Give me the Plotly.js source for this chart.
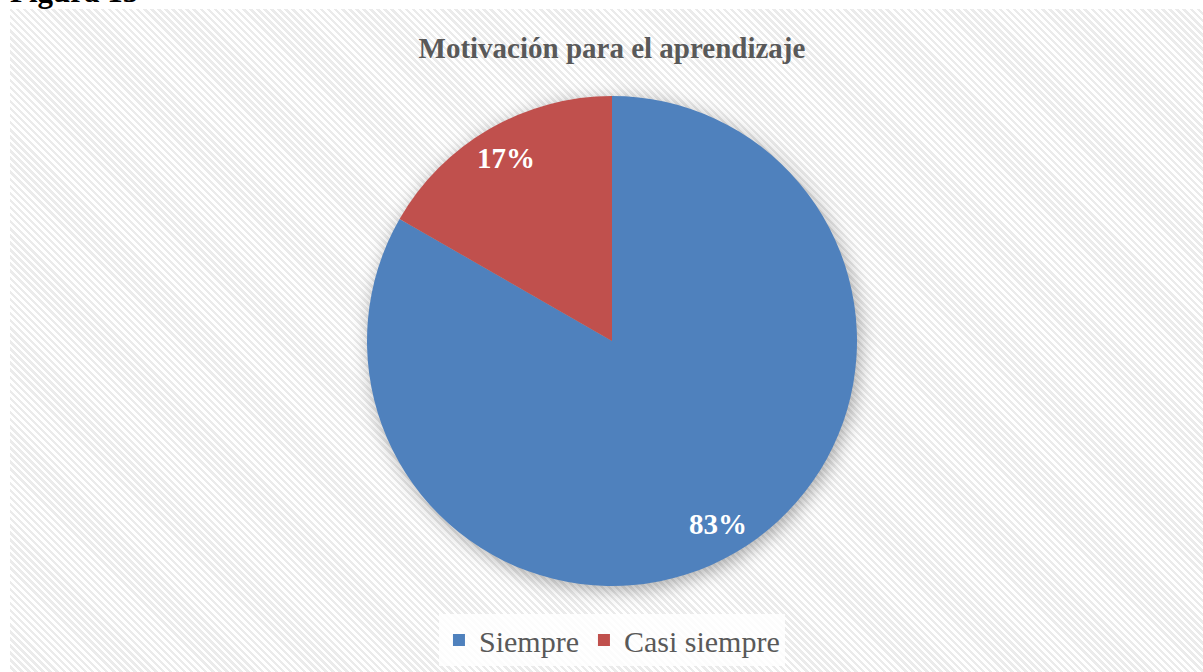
<!DOCTYPE html>
<html>
<head>
<meta charset="utf-8">
<script src="https://cdn.plot.ly/plotly-3.0.1.min.js"></script>
<style>
  html, body { margin: 0; padding: 0; background: #ffffff; }
  #wrap { position: relative; width: 1203px; height: 672px; overflow: hidden; background: #ffffff; }
  #hatch { position: absolute; left: 10px; top: 9px; right: 0; bottom: 0;
    background: repeating-linear-gradient(45deg, #ffffff 0px, #ffffff 2.5px, #ebebeb 2.5px, #ebebeb 5px); }
  #chart { position: absolute; left: 0; top: 0; width: 1203px; height: 672px; }
  #chart .pielayer { filter: drop-shadow(3px 4px 9px rgba(0,0,0,0.32)); }
</style>
</head>
<body>
<div id="wrap">
  <div id="hatch"></div>
  <div id="chart"></div>
</div>
<script>
const categories = ["Siempre", "Casi siempre"];
const values = [83.3, 16.7];
const colors = ["#4F81BD", "#C0504D"];

const W = 1203, H = 672;
const cx = 612, cy = 341, R = 245;
const dom = {
  x: [(cx - R) / W, (cx + R) / W],
  y: [1 - (cy + R) / H, 1 - (cy - R) / H]
};

// data label positions derived from the values (clockwise from 12 o'clock)
const total = values.reduce((a, b) => a + b, 0);
const annotations = [];
let start = 0;
values.forEach((v, i) => {
  const mid = (start + v / 2) / total * 2 * Math.PI;
  start += v;
  const rf = 0.862;
  const px = cx + Math.sin(mid) * R * rf;
  const py = cy - Math.cos(mid) * R * rf;
  annotations.push({
    xref: "paper", yref: "paper", x: px / W, y: 1 - py / H,
    xanchor: "center", yanchor: "middle", showarrow: false,
    text: "<b>" + Math.round(v / total * 100) + "%</b>",
    font: { family: "Liberation Serif, Times New Roman, serif", size: 29, color: "#ffffff" }
  });
});

annotations.push({
  xref: "paper", yref: "paper", x: 0, y: 1, xanchor: "left", yanchor: "bottom",
  xshift: 8, yshift: -11, showarrow: false,
  text: "<b>Figura 13</b>",
  font: { family: "Liberation Serif, Times New Roman, serif", size: 31, color: "#000000" }
});

const trace = {
  type: "pie",
  labels: categories,
  values: values,
  sort: false,
  direction: "clockwise",
  rotation: 0,
  textinfo: "none",
  hoverinfo: "label+percent",
  marker: { colors: colors, line: { width: 0 } },
  domain: dom
};

const layout = {
  width: W, height: H,
  margin: { l: 0, r: 0, t: 0, b: 0 },
  paper_bgcolor: "rgba(0,0,0,0)",
  plot_bgcolor: "rgba(0,0,0,0)",
  title: {
    text: "<b>Motivación para el aprendizaje</b>",
    x: 0.5087, xanchor: "center", y: 1 - 48 / H, yanchor: "middle",
    font: { family: "Liberation Serif, Times New Roman, serif", size: 29, color: "#595959" }
  },
  showlegend: true,
  legend: {
    orientation: "h", x: 0.5087, xanchor: "center", y: 1 - 640 / H, yanchor: "middle",
    bgcolor: "rgba(255,255,255,0.85)",
    font: { family: "Liberation Serif, Times New Roman, serif", size: 30, color: "#595959" },
    itemwidth: 30,
    traceorder: "normal"
  },
  annotations: annotations
};

Plotly.newPlot("chart", [trace], layout, { displayModeBar: false, staticPlot: true });
</script>
</body>
</html>
